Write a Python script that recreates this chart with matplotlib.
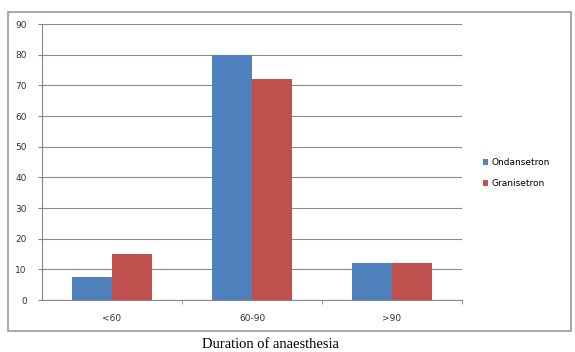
import matplotlib
matplotlib.use('Agg')
import matplotlib.pyplot as plt
import numpy as np
from matplotlib.patches import Rectangle

categories = ['<60', '60-90', '>90']
ondansetron = [7.5, 80, 12]
granisetron = [15, 72, 12]
yticks = [0, 10, 20, 30, 40, 50, 60, 70, 80, 90]

W, H = 575, 352
fig = plt.figure(figsize=(W / 100, H / 100), dpi=100)
ax = fig.add_axes([42 / W, 1 - 300 / H, 420 / W, 276 / H])

x = np.arange(len(categories))
bw = 0.285
ax.bar(x - bw / 2, ondansetron, bw, color='#4F81BD', label='Ondansetron', zorder=3)
ax.bar(x + bw / 2, granisetron, bw, color='#C0504D', label='Granisetron', zorder=3)

ax.set_xlim(-0.5, 2.5)
ax.set_ylim(0, 90)
ax.set_yticks(yticks)
ax.set_xticks(x)
ax.set_xticklabels(categories)
ax.set_xticks([0.5, 1.5, 2.5], minor=True)
ax.tick_params(axis='x', which='major', length=0, labelsize=6.5, pad=10, colors='#333333')
ax.tick_params(axis='x', which='minor', length=3, color='#868686')
ax.tick_params(axis='y', length=3, color='#868686', labelsize=6.5, pad=8, colors='#333333')
ax.yaxis.grid(True, color='#8c8c8c', linewidth=0.8, zorder=0)
for s in ['top', 'right']:
    ax.spines[s].set_visible(False)
for s in ['left', 'bottom']:
    ax.spines[s].set_color('#868686')

ax.legend(loc='center left', bbox_to_anchor=(1.03, 0.46), frameon=False, fontsize=6.5,
          handlelength=0.6, handleheight=0.6, handletextpad=0.4, labelspacing=1.3)

fig.patches.append(Rectangle((8 / W, 1 - 331 / H), 563 / W, 319 / H, transform=fig.transFigure,
                             fill=False, edgecolor='#999999', linewidth=1.2))
fig.text(270 / W, 1 - 344 / H, 'Duration of anaesthesia', ha='center', va='center',
         family='Liberation Serif', fontsize=10.5)

fig.savefig('out.png', dpi=100)
